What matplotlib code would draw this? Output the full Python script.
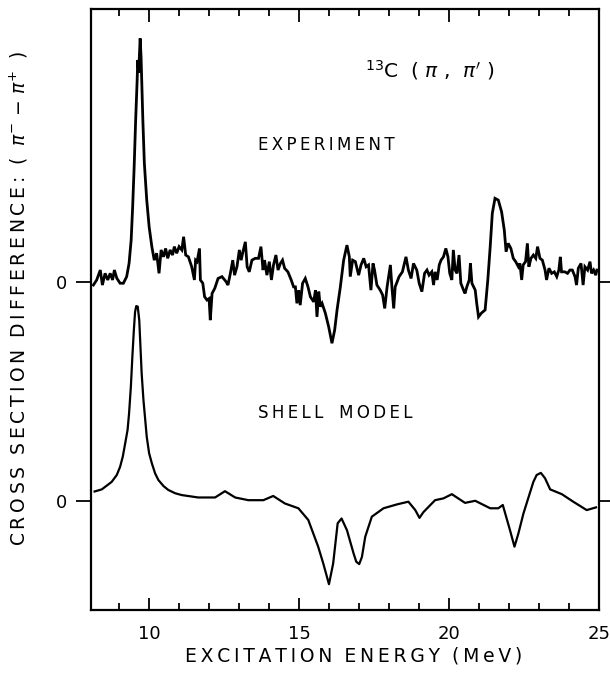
import matplotlib
matplotlib.use("Agg")
import matplotlib.pyplot as plt

# measured (pi- minus pi+) difference, arbitrary units
exp_energy = [8.13, 8.24, 8.36, 8.43, 8.52, 8.61, 8.69, 8.77, 8.83, 8.91,
              9.02, 9.13, 9.24, 9.32, 9.39, 9.44, 9.49, 9.54, 9.59, 9.61,
              9.64, 9.69, 9.72, 9.74, 9.78, 9.83, 9.91, 9.99, 10.08, 10.16,
              10.24, 10.32, 10.39, 10.47, 10.54, 10.61, 10.69, 10.77, 10.83, 10.91,
              10.99, 11.08, 11.14, 11.21, 11.30, 11.41, 11.50, 11.54,
              11.59, 11.67, 11.70, 11.78, 11.84, 11.92, 11.99, 12.03, 12.09, 12.18,
              12.29, 12.42, 12.56, 12.62, 12.70, 12.78, 12.84, 12.92, 13.00, 13.06,
              13.12, 13.20, 13.26, 13.33, 13.42, 13.53, 13.64, 13.72, 13.79, 13.84,
              13.92, 14.00, 14.07, 14.14, 14.22, 14.29, 14.37, 14.44, 14.51, 14.62,
              14.73, 14.81,
              14.87, 14.92, 14.98, 15.03, 15.11, 15.20, 15.29, 15.37, 15.48, 15.54,
              15.59, 15.65, 15.70, 15.76, 15.87, 15.98, 16.09, 16.18, 16.26, 16.37,
              16.48, 16.59, 16.67, 16.70, 16.78, 16.87, 16.98, 17.06, 17.15, 17.23,
              17.31, 17.39, 17.46, 17.51, 17.59, 17.70, 17.78, 17.85, 17.93, 18.04,
              18.09, 18.15, 18.20,
              18.33, 18.44, 18.56, 18.64, 18.73, 18.81, 18.92, 19.00, 19.09, 19.18,
              19.26, 19.33, 19.42, 19.48, 19.53, 19.60, 19.67, 19.73, 19.81, 19.89,
              19.96, 20.02, 20.09, 20.14, 20.20, 20.26, 20.33, 20.39, 20.48, 20.53,
              20.59, 20.67, 20.71, 20.76, 20.87, 20.92, 20.98, 21.07, 21.20, 21.29,
              21.37, 21.44,
              21.53, 21.64, 21.75, 21.84, 21.90, 21.97, 22.06, 22.14, 22.22, 22.31,
              22.36, 22.42, 22.47, 22.55, 22.61, 22.66, 22.73, 22.81, 22.89, 22.95,
              23.03, 23.11, 23.20, 23.25, 23.33, 23.42, 23.51, 23.59, 23.66, 23.71,
              23.75, 23.86, 23.95, 24.03, 24.11, 24.20, 24.25, 24.31, 24.40, 24.47,
              24.53, 24.62, 24.70, 24.75, 24.82, 24.89, 24.93]
exp_diff = [-0.10, 0.07, 0.40, -0.10, 0.29, 0.07, 0.29, 0.07, 0.40, 0.13,
            -0.04, -0.04, 0.18, 0.62, 1.40, 2.51, 3.84, 5.40, 6.73, 7.40,
            6.98, 8.12, 7.51, 6.84, 5.40, 3.96, 2.73, 1.84, 1.18, 0.73,
            0.96, 0.29, 1.07, 0.84, 1.12, 0.79, 1.07, 0.90, 1.18, 0.96,
            1.18, 1.07, 1.51, 0.90, 0.84, 0.51, 0.07, 0.73,
            0.68, 1.12, 0.07, -0.04, -0.49, -0.60, -0.55, -1.27, -0.38, -0.21,
            0.12, 0.18, 0.01, -0.10, 0.29, 0.73, 0.23, 0.51, 1.07, 0.73,
            1.01, 1.34, 0.51, 0.34, 0.73, 0.79, 0.79, 1.18, 0.40, 0.73,
            0.23, 0.68, 0.07, 0.57, 0.90, 0.40, 0.62, 0.73, 0.46, 0.34,
            0.07, -0.16,
            -0.16, -0.71, -0.27, -0.77, -0.04, 0.12, -0.16, -0.49, -0.66, -0.27,
            -1.16, -0.32, -0.82, -0.71, -1.04, -1.49, -2.04, -1.60, -0.93, -0.16,
            0.73, 1.23, 0.84, 0.18, 0.73, 0.68, 0.23, 0.57, 0.79, 0.51,
            0.57, -0.27, 0.62, 0.40, -0.10, -0.27, -0.43, -0.88, -0.16, 0.57,
            -0.16, -0.88, -0.16,
            0.18, 0.34, 0.84, 0.40, 0.12, 0.62, 0.40, -0.04, -0.32, 0.29,
            0.40, 0.23, 0.34, -0.10, 0.34, 0.07, 0.57, 0.73, 0.84, 1.12,
            0.84, 0.29, 0.07, 1.07, 0.40, 0.29, 0.90, -0.04, -0.27, -0.38,
            -0.16, 0.07, 0.62, -0.04, -0.27, -0.71, -1.16, -1.04, -0.93, 0.07,
            1.18, 2.29,
            2.79, 2.73, 2.34, 1.73, 1.01, 1.29, 1.12, 0.79, 0.68, 0.51,
            0.62, 0.07, 0.57, 0.68, 1.29, 0.51, 0.79, 0.90, 0.79, 1.18,
            0.79, 0.73, 0.40, 0.07, 0.46, 0.29, 0.34, 0.18, 0.40, 0.84,
            0.34, 0.34, 0.29, 0.40, 0.40, 0.18, -0.10, 0.46, 0.62, -0.10,
            0.51, 0.40, 0.68, 0.29, 0.40, 0.23, 0.40]

# shell model prediction, same units
shell_energy = [8.17, 8.41, 8.74, 8.91, 9.02, 9.11, 9.19, 9.27, 9.32, 9.38,
                9.43, 9.48, 9.52, 9.56, 9.61, 9.66, 9.69, 9.74, 9.80, 9.86,
                9.91, 9.99, 10.08, 10.19, 10.30, 10.47, 10.63, 10.86, 11.08, 11.63,
                12.19, 12.52, 12.86, 13.30, 13.80, 14.13, 14.52, 14.97, 15.30, 15.63,
                15.80, 15.99, 16.13, 16.28, 16.41, 16.59, 16.81, 16.90, 17.00, 17.09,
                17.20, 17.42, 17.81, 18.26, 18.64, 18.87, 19.01, 19.14, 19.53, 19.81,
                20.09, 20.53, 20.87, 21.37, 21.64, 21.79, 22.03, 22.18, 22.31, 22.48,
                22.81, 22.92, 23.06, 23.20, 23.37, 23.76, 24.14, 24.59, 24.90]
shell_diff = [0.32, 0.39, 0.64, 0.87, 1.14, 1.48, 1.92, 2.37, 2.92, 3.81,
              4.81, 5.70, 6.30, 6.50, 6.48, 6.03, 5.37, 4.26, 3.37, 2.70,
              2.14, 1.59, 1.26, 0.92, 0.70, 0.50, 0.37, 0.26, 0.20, 0.12,
              0.12, 0.33, 0.12, 0.03, 0.03, 0.17, -0.08, -0.24, -0.63, -1.52,
              -2.08, -2.77, -2.08, -0.74, -0.58, -0.97, -1.74, -2.02, -2.10, -1.86,
              -1.19, -0.52, -0.24, -0.11, -0.02, -0.30, -0.56, -0.37, 0.03, 0.09,
              0.23, -0.06, 0.01, -0.24, -0.24, -0.13, -0.97, -1.52, -1.08, -0.41,
              0.64, 0.87, 0.94, 0.76, 0.39, 0.23, -0.02, -0.30, -0.21]

# experiment is drawn above the shell model, shifted up by this much
exp_offset = 7.3

TS = "\u2009"  # thin space, used to open up the lettering


def spaced(s):
    return TS.join(s)


fig = plt.figure(figsize=(6.1, 6.77), dpi=100)
ax = fig.add_axes([91 / 610, 1 - 610 / 677, 508 / 610, 601 / 677])

ax.plot(exp_energy, [v + exp_offset for v in exp_diff], color="black",
        lw=2.0, solid_joinstyle="miter")
ax.plot(shell_energy, shell_diff, color="black", lw=1.6)

ax.set_xlim(8.05, 25)
ax.set_ylim(-3.63, 16.4)

for s in ax.spines.values():
    s.set_linewidth(1.6)

ax.set_xticks([10, 15, 20, 25])
ax.set_xticks([e for e in range(9, 25) if e % 5], minor=True)
ax.tick_params(axis="x", which="major", direction="in", length=9, width=1.3,
               top=True, labelsize=13, pad=11)
ax.tick_params(axis="x", which="minor", direction="in", length=5, width=1.3,
               top=True)
ax.set_yticks([0, exp_offset])
ax.set_yticklabels(["0", "0"])
ax.tick_params(axis="y", direction="out", length=11, width=1.3, right=True,
               labelsize=13, pad=6)

ax.text(0.667, 0.898, r"$^{13}$C  ( $\pi$ ,  $\pi'$ )", transform=ax.transAxes,
        ha="center", va="center", fontsize=14.5)
ax.text(0.463, 0.774, spaced("EXPERIMENT"), transform=ax.transAxes,
        ha="center", va="center", fontsize=12)
ax.text(0.48, 0.328, spaced("SHELL") + "   " + spaced("MODEL"),
        transform=ax.transAxes, ha="center", va="center", fontsize=12)

fig.text(0.58, 1 - 656 / 677,
         spaced("EXCITATION") + "  " + spaced("ENERGY") + "  " + spaced("(MeV)"),
         ha="center", va="center", fontsize=13.5)
fig.text(19 / 610, 1 - 298 / 677,
         spaced("CROSS") + "  " + spaced("SECTION") + "  " + spaced("DIFFERENCE:")
         + r"  (  $\pi^{-}$ $-$ $\pi^{+}$  )",
         rotation=90, ha="center", va="center", fontsize=13.5)

fig.savefig("out.png", dpi=100)
